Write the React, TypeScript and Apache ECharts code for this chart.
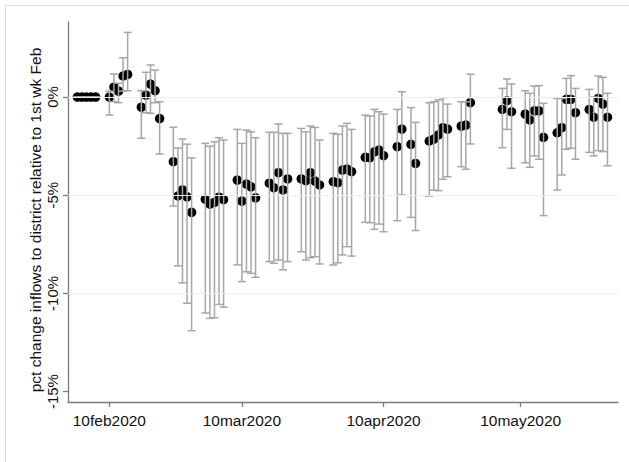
import React, { useEffect, useRef } from "react";
import * as echarts from "echarts";

// ---- data (pct change, with 95% CI) ----
const dates = [
  "2020-02-03", "2020-02-04", "2020-02-05", "2020-02-06", "2020-02-07",
  "2020-02-10", "2020-02-11", "2020-02-12", "2020-02-13", "2020-02-14",
  "2020-02-17", "2020-02-18", "2020-02-19", "2020-02-20", "2020-02-21",
  "2020-02-24", "2020-02-25", "2020-02-26", "2020-02-27", "2020-02-28",
  "2020-03-02", "2020-03-03", "2020-03-04", "2020-03-05", "2020-03-06",
  "2020-03-09", "2020-03-10", "2020-03-11", "2020-03-12", "2020-03-13",
  "2020-03-16", "2020-03-17", "2020-03-18", "2020-03-19", "2020-03-20",
  "2020-03-23", "2020-03-24", "2020-03-25", "2020-03-26", "2020-03-27",
  "2020-03-30", "2020-03-31", "2020-04-01", "2020-04-02", "2020-04-03",
  "2020-04-06", "2020-04-07", "2020-04-08", "2020-04-09", "2020-04-10",
  "2020-04-13", "2020-04-14", "2020-04-16", "2020-04-17",
  "2020-04-20", "2020-04-21", "2020-04-22", "2020-04-23", "2020-04-24",
  "2020-04-27", "2020-04-28", "2020-04-29",
  "2020-05-06", "2020-05-07", "2020-05-08",
  "2020-05-11", "2020-05-12", "2020-05-13", "2020-05-14", "2020-05-15",
  "2020-05-18", "2020-05-19", "2020-05-20", "2020-05-21", "2020-05-22",
  "2020-05-25", "2020-05-26", "2020-05-27", "2020-05-28", "2020-05-29",
];

const estimates = [
  0, 0, 0, 0, 0,
  0.0, 0.5, 0.3, 1.07, 1.15,
  -0.52, 0.1, 0.66, 0.32, -1.1,
  -3.29, -5.04, -4.73, -5.08, -5.87,
  -5.2, -5.45, -5.36, -5.1, -5.22,
  -4.23, -5.3, -4.43, -4.57, -5.13,
  -4.39, -4.62, -3.85, -4.73, -4.17,
  -4.17, -4.26, -3.85, -4.28, -4.48,
  -4.31, -4.36, -3.72, -3.67, -3.8,
  -3.07, -3.09, -2.79, -2.7, -2.99,
  -2.53, -1.63, -2.41, -3.38,
  -2.24, -2.14, -1.93, -1.56, -1.63,
  -1.48, -1.43, -0.29,
  -0.63, -0.19, -0.75,
  -0.87, -1.17, -0.7, -0.7, -2.05,
  -1.82, -1.56, -0.12, -0.12, -0.8,
  -0.63, -1.03, -0.07, -0.36, -1.03,
];

const lower = [
  0, 0, 0, 0, 0,
  -0.92, -0.24, -0.29, 0.3, 0.32,
  -2.1, -0.8, -0.83, -0.29, -2.9,
  -5.55, -8.6, -9.46, -10.5, -11.9,
  -11.0, -11.27, -11.24, -10.56, -10.7,
  -8.55, -9.4, -8.9, -8.98, -9.18,
  -8.38, -8.47, -8.3, -8.8, -8.38,
  -7.88, -8.3, -8.18, -8.13, -8.5,
  -8.55, -8.44, -8.04, -7.62, -8.1,
  -6.38, -6.4, -6.74, -6.47, -6.86,
  -6.3, -4.99, -6.13, -6.8,
  -5.04, -4.74, -4.77, -4.19, -4.06,
  -3.55, -3.68, -2.39,
  -2.58, -1.65, -3.63,
  -3.35, -3.58, -3.0, -3.17, -6.04,
  -4.74, -3.97, -2.66, -2.61, -3.17,
  -2.82, -3.0, -2.73, -2.78, -3.5,
];

const upper = [
  0, 0, 0, 0, 0,
  0.3, 1.17, 0.7, 2.0, 3.29,
  0.32, 1.26, 1.63, 1.37, -0.24,
  -1.54, -2.6, -2.14, -2.4, -3.1,
  -2.36, -2.5, -2.28, -2.07, -2.19,
  -1.65, -2.36, -1.68, -1.77, -2.07,
  -1.8, -1.8, -1.37, -1.85, -1.85,
  -1.6, -1.77, -1.48, -1.55, -2.19,
  -1.85, -1.9, -1.48, -1.34, -1.65,
  -0.92, -0.97, -0.63, -0.75, -0.87,
  -0.63, 0.27, -0.54, -1.29,
  -0.29, -0.24, -0.15, -0.04, -0.36,
  -0.24, -0.24, 1.16,
  0.44, 0.92, 0.66,
  0.32, 0.19, 0.56, 0.58, -0.32,
  -0.07, -0.07, 0.95, 1.09, 0.44,
  0.39, 0.0, 1.07, 1.0, 0.19,
];

const xTickDates = ["2020-02-10", "2020-03-10", "2020-04-10", "2020-05-10"];
const xTickLabels = ["10feb2020", "10mar2020", "10apr2020", "10may2020"];
const yTicks = [-15, -10, -5, 0];
const yTickLabels = ["-15%", "-10%", "-5%", "0%"];
const gridValues = [-10, -5, 0];
const yTitle = "pct change inflows to district relative to 1st wk Feb";

const ORIGIN = Date.UTC(2020, 1, 10);
const dayOf = (s: string) => {
  const [y, m, d] = s.split("-").map(Number);
  return Math.round((Date.UTC(y, m - 1, d) - ORIGIN) / 86400000);
};

const FONT = "'Liberation Sans', Arial, sans-serif";

export default function App() {
  const ref = useRef<HTMLDivElement>(null);

  useEffect(() => {
    if (!ref.current) return;
    const chart = echarts.init(ref.current, undefined, { renderer: "svg" });

    const xDays = dates.map(dayOf);
    const tickDays = xTickDates.map(dayOf);
    const pts = xDays.map((x, i) => [x, estimates[i]]);
    const bars = xDays.map((x, i) => [x, lower[i], upper[i]]);

    const axisColor = "#7a7a7a";
    const barColor = "#a6a6a6";

    const option: any = {
      animation: false,
      backgroundColor: "#ffffff",
      textStyle: { fontFamily: FONT },
      grid: { left: 68, right: 11, top: 22, bottom: 60, outerBoundsMode: "none", containLabel: false },
      xAxis: {
        type: "value",
        min: -9.05,
        max: 111.3,
        axisLine: { show: true, onZero: false, lineStyle: { color: axisColor, width: 1.3 } },
        axisTick: { show: true, length: 5, customValues: tickDays, lineStyle: { color: axisColor, width: 1.3 } },
        axisLabel: {
          customValues: tickDays,
          margin: 10,
          fontSize: 15.5,
          color: "#111",
          fontFamily: FONT,
          formatter: (v: number) => {
            const k = tickDays.indexOf(Math.round(v));
            return k >= 0 ? xTickLabels[k] : "";
          },
        },
        splitLine: { show: false },
      },
      yAxis: {
        type: "value",
        min: -15.53,
        max: 3.82,
        axisLine: { show: true, onZero: false, lineStyle: { color: axisColor, width: 1.3 } },
        axisTick: { show: true, length: 5, customValues: yTicks, lineStyle: { color: axisColor, width: 1.3 } },
        axisLabel: {
          customValues: yTicks,
          rotate: 90,
          margin: 8,
          fontSize: 15,
          color: "#111",
          fontFamily: FONT,
          formatter: (v: number) => {
            const k = yTicks.indexOf(Math.round(v));
            return k >= 0 ? yTickLabels[k] : "";
          },
        },
        splitLine: { show: false },
      },
      graphic: [
        {
          type: "rect",
          shape: { x: 5.5, y: 5.5, width: 640, height: 480 },
          style: { fill: "none", stroke: "#dcdcdc", lineWidth: 1 },
          silent: true,
          z: -10,
        },
        {
          type: "text",
          x: 35,
          y: 220,
          rotation: Math.PI / 2,
          style: {
            text: yTitle,
            fontSize: 15.5,
            fontFamily: FONT,
            fill: "#111",
            align: "center",
            verticalAlign: "middle",
          },
        },
      ],
      series: [
        {
          type: "line",
          data: [],
          silent: true,
          z: 1,
          markLine: {
            silent: true,
            symbol: "none",
            label: { show: false },
            lineStyle: { color: "#e6eff0", width: 1, type: "solid" },
            data: gridValues.map((v) => ({ yAxis: v })),
          },
        },
        {
          type: "scatter",
          data: pts,
          symbol: "circle",
          symbolSize: 9.5,
          itemStyle: { color: "#000000", opacity: 1 },
          z: 3,
        },
        {
          type: "custom",
          data: bars,
          encode: { x: 0, y: [1, 2] },
          z: 4,
          renderItem: (params: any, api: any) => {
            const x = api.value(0);
            const lo = api.coord([x, api.value(1)]);
            const hi = api.coord([x, api.value(2)]);
            const w = 4;
            const st = { stroke: barColor, lineWidth: 1.5, fill: "none" };
            return {
              type: "group",
              children: [
                { type: "line", shape: { x1: lo[0], y1: lo[1], x2: hi[0], y2: hi[1] }, style: st },
                { type: "line", shape: { x1: lo[0] - w, y1: lo[1], x2: lo[0] + w, y2: lo[1] }, style: st },
                { type: "line", shape: { x1: hi[0] - w, y1: hi[1], x2: hi[0] + w, y2: hi[1] }, style: st },
              ],
            };
          },
        },
      ],
    };

    chart.setOption(option);
    return () => chart.dispose();
  }, []);

  return (
    <div
      ref={ref}
      style={{ position: "absolute", left: 0, top: 0, width: 629, height: 462, background: "#fff" }}
    />
  );
}
